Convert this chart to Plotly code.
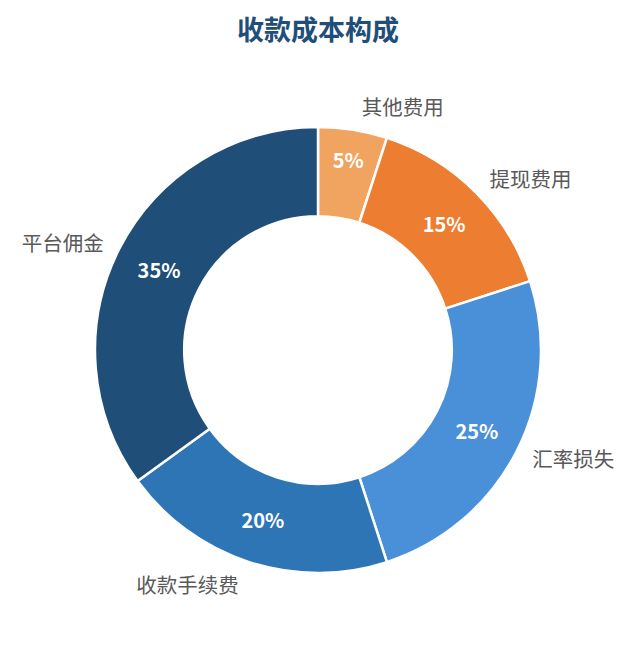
import plotly.graph_objects as go

# 收款成本构成 data
labels = ["其他费用", "提现费用", "汇率损失", "收款手续费", "平台佣金"]
values = [5, 15, 25, 20, 35]
colors = ["#F0A45F", "#ED7D31", "#4A90D9", "#2E75B6", "#1F4E79"]

W, H = 636, 645
cx, cy = 310, 342          # pie centre in px (page body has an 8px margin)
r_pie, r_lab = 223, 232    # outer radius of the ring, radius used for the label ring


def dom(r):
    return dict(x=[(cx - r) / W, (cx + r) / W],
                y=[(H - cy - r) / H, (H - cy + r) / H])


fig = go.Figure()

# transparent ring, only used to push the category labels outward
fig.add_trace(go.Pie(
    labels=labels, values=values, sort=False, direction="clockwise", rotation=0,
    hole=0.9, domain=dom(r_lab),
    marker=dict(colors=["rgba(0,0,0,0)"] * len(values), line=dict(width=0)),
    textinfo="label", textposition="outside",
    outsidetextfont=dict(size=20.5, color="#595959", family="Noto Sans CJK SC"),
    hoverinfo="skip", showlegend=False,
))

# the real donut with percentages inside
fig.add_trace(go.Pie(
    labels=labels, values=values, sort=False, direction="clockwise", rotation=0,
    hole=0.6, domain=dom(r_pie),
    marker=dict(colors=colors, line=dict(color="white", width=2.5)),
    texttemplate="<b>%{percent:.0%}</b>", textposition="inside",
    insidetextorientation="horizontal",
    insidetextfont=dict(size=20, color="white", family="Noto Sans CJK SC"),
    showlegend=False,
))

fig.update_layout(
    width=W, height=H,
    margin=dict(l=0, r=0, t=0, b=0),
    paper_bgcolor="white", plot_bgcolor="white",
    title=dict(text="<b>收款成本构成</b>", x=cx / W, xanchor="center", y=1 - 23 / H, yanchor="middle",
               font=dict(size=27, color="#1F4E79", family="Noto Sans CJK SC")),
    font=dict(family="Noto Sans CJK SC"),
)

fig.write_html("out.html")
